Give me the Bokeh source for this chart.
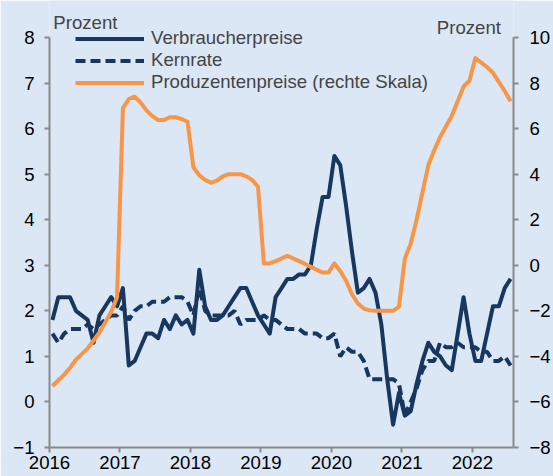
from bokeh.plotting import figure
from bokeh.models import Range1d, LinearAxis, FixedTicker, Legend, LegendItem, Label
from bokeh.embed import file_html
from bokeh.resources import INLINE

# Monthly data, Jan 2016 - Jul 2022 (year-on-year, %)
start_year = 2016
verbraucherpreise = [
    1.8, 2.3, 2.3, 2.3, 2.0, 1.9, 1.8, 1.3, 1.9, 2.1, 2.3, 2.1,
    2.5, 0.8, 0.9, 1.2, 1.5, 1.5, 1.4, 1.8, 1.6, 1.9, 1.7, 1.8,
    1.5, 2.9, 2.1, 1.8, 1.8, 1.9, 2.1, 2.3, 2.5, 2.5, 2.2, 1.9,
    1.7, 1.5, 2.3, 2.5, 2.7, 2.7, 2.8, 2.8, 3.0, 3.8, 4.5, 4.5,
    5.4, 5.2, 4.3, 3.3, 2.4, 2.5, 2.7, 2.4, 1.7, 0.5, -0.5, 0.2,
    -0.3, -0.2, 0.4, 0.9, 1.3, 1.1, 1.0, 0.8, 0.7, 1.5, 2.3, 1.5,
    0.9, 0.9, 1.5, 2.1, 2.1, 2.5, 2.7,
]
kernrate = [
    1.5, 1.3, 1.5, 1.6, 1.6, 1.6, 1.7, 1.6, 1.7, 1.8, 1.9, 1.9,
    2.1, 1.8, 2.0, 2.1, 2.1, 2.2, 2.2, 2.2, 2.3, 2.3, 2.3, 2.2,
    1.9, 2.5, 2.0, 1.9, 1.9, 1.9, 1.9, 2.0, 1.7, 1.8, 1.8, 1.8,
    1.9, 1.8, 1.8, 1.7, 1.6, 1.6, 1.6, 1.5, 1.5, 1.5, 1.4, 1.4,
    1.5, 1.0, 1.2, 1.1, 1.1, 0.9, 0.5, 0.5, 0.5, 0.5, 0.5, 0.4,
    -0.3, 0.0, 0.3, 0.7, 0.9, 0.9, 1.3, 1.2, 1.2, 1.3, 1.2, 1.2,
    1.2, 1.1, 1.1, 0.9, 0.9, 1.0, 0.8,
]
produzentenpreise = [
    -5.3, -5.05, -4.8, -4.5, -4.15, -3.9, -3.65, -3.3, -2.95, -2.5, -2.05, -1.4,
    6.9, 7.3, 7.4, 7.15, 6.8, 6.55, 6.38, 6.38, 6.5, 6.5, 6.42, 6.3,
    4.3, 3.95, 3.75, 3.62, 3.72, 3.9, 4.0, 4.0, 4.0, 3.9, 3.75, 3.45,
    0.08, 0.08, 0.18, 0.3, 0.42, 0.3, 0.18, 0.06, -0.07, -0.2, -0.32, -0.32,
    0.08, -0.25, -0.68, -1.27, -1.68, -1.9, -1.98, -2.0, -2.0, -2.0, -2.0, -1.82,
    0.3, 0.95, 2.0, 3.2, 4.4, 5.05, 5.62, 6.1, 6.56, 7.2, 7.85, 8.1,
    9.1, 8.9, 8.7, 8.45, 8.05, 7.65, 7.2,
]
year_ticks = [2016, 2017, 2018, 2019, 2020, 2021, 2022]
year_labels = ["2016", "2017", "2018", "2019", "2020", "2021", "2022"]
left_ticks = [-1, 0, 1, 2, 3, 4, 5, 6, 7, 8]
right_ticks = [-8, -6, -4, -2, 0, 2, 4, 6, 8, 10]

# mid-month positions in decimal years
x = [start_year + (i + 0.5) / 12 for i in range(len(verbraucherpreise))]

BG = "#dbe7f5"
NAVY = "#17375e"
ORANGE = "#f79646"
AXIS = "#8a8a8a"
FONT = "Liberation Sans"
FS = "18.6px"

W, H = 553, 476
B_LEFT, B_RIGHT, B_TOP, B_BOTTOM = 49, 39, 0, 29
frame_h = H - B_TOP - B_BOTTOM
px_left = frame_h - 37  # pixels spanning -1..8 (top of axis at y=37)
left_top = -1 + 9 * frame_h / px_left
right_top = -8 + 18 * frame_h / px_left

p = figure(width=W, height=H, output_backend="svg", toolbar_location=None,
           x_range=Range1d(2016, 2016 + 79 / 12), y_range=Range1d(-1, left_top),
           min_border_left=B_LEFT, min_border_right=B_RIGHT,
           min_border_top=B_TOP, min_border_bottom=B_BOTTOM)
p.background_fill_color = BG
p.border_fill_color = BG
p.outline_line_color = None
p.grid.visible = False

p.extra_y_ranges = {"right": Range1d(-8, right_top)}
raxis = LinearAxis(y_range_name="right")
p.add_layout(raxis, "right")

for ax in [p.xaxis[0], p.yaxis[0], raxis]:
    ax.axis_line_color = AXIS
    ax.axis_line_width = 2
    ax.major_tick_line_color = AXIS
    ax.major_tick_line_width = 2
    ax.major_tick_out = 5
    ax.major_tick_in = 0
    ax.minor_tick_line_color = None
    ax.major_label_text_font = FONT
    ax.major_label_text_font_size = FS
    ax.major_label_text_color = "black"

p.xaxis[0].ticker = FixedTicker(ticks=year_ticks)
p.xaxis[0].major_label_overrides = {t: l for t, l in zip(year_ticks, year_labels)}
p.xaxis[0].major_label_standoff = 3
p.yaxis[0].ticker = FixedTicker(ticks=left_ticks)
p.yaxis[0].major_label_standoff = 10
p.yaxis[0].bounds = (-1, 8)
raxis.ticker = FixedTicker(ticks=right_ticks)
raxis.major_label_standoff = 11
raxis.bounds = (-8, 10)

r1 = p.line(x, verbraucherpreise, line_color=NAVY, line_width=4, line_join="round")
r2 = p.line(x, kernrate, line_color=NAVY, line_width=4, line_dash="10 5")
r3 = p.line(x, produzentenpreise, line_color=ORANGE, line_width=4, line_join="round",
            y_range_name="right")

legend = Legend(items=[
    LegendItem(label="Verbraucherpreise", renderers=[r1]),
    LegendItem(label="Kernrate", renderers=[r2]),
    LegendItem(label="Produzentenpreise (rechte Skala)", renderers=[r3]),
], location=(26, frame_h - 30 - 63))
legend.glyph_width = 69
legend.glyph_height = 21
legend.label_height = 21
legend.spacing = 0
legend.padding = 0
legend.margin = 0
legend.label_standoff = 7
legend.label_text_font = FONT
legend.label_text_font_size = FS
legend.label_text_baseline = "middle"
legend.background_fill_alpha = 0
legend.border_line_alpha = 0
p.add_layout(legend)

p.add_layout(Label(x=2016.054, y=8.33, text="Prozent", text_font=FONT, text_font_size=FS,
                   text_baseline="alphabetic", text_align="left"))
p.add_layout(Label(x=2022.405, y=8.21, text="Prozent", text_font=FONT, text_font_size=FS,
                   text_baseline="alphabetic", text_align="right"))

open("out.html", "w").write(file_html(p, INLINE))
